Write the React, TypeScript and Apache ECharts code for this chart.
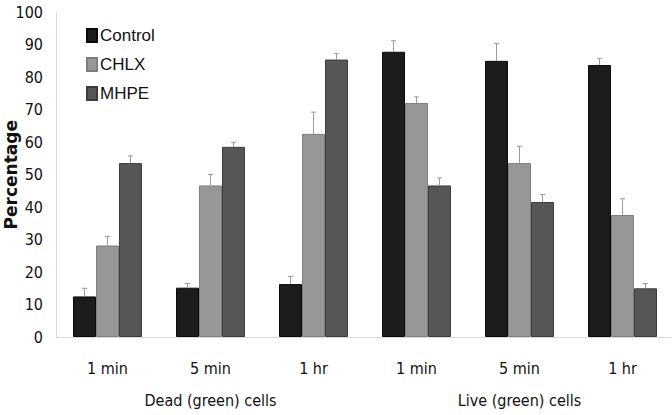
import React, { useEffect, useRef } from "react";
import * as echarts from "echarts";

const categories = ["1 min", "5 min", "1 hr", "1 min", "5 min", "1 hr"];
const groups = ["Dead (green) cells", "Live (green) cells"];
const seriesNames = ["Control", "CHLX", "MHPE"];
const controlValues = [12.5, 15.2, 16.3, 87.9, 85.1, 83.8];
const controlErrors = [2.5, 1.3, 2.4, 3.4, 5.3, 2.1];
const chlxValues = [28.2, 46.7, 62.6, 72.1, 53.6, 37.6];
const chlxErrors = [2.8, 3.4, 6.7, 1.9, 5.2, 5.0];
const mhpeValues = [53.6, 58.6, 85.5, 46.7, 41.6, 15.0];
const mhpeErrors = [2.2, 1.4, 1.9, 2.3, 2.3, 1.5];
const yTicks = [0, 10, 20, 30, 40, 50, 60, 70, 80, 90, 100];

const narrow = "'Liberation Sans Narrow', 'DejaVu Sans Condensed', Lato, sans-serif";

export default function App() {
  const ref = useRef<HTMLDivElement>(null);
  useEffect(() => {
    const chart = echarts.init(ref.current!, null, { renderer: "svg" });
    const values = [controlValues, chlxValues, mhpeValues];
    const errors = [controlErrors, chlxErrors, mhpeErrors];
    const colors = ["#1c1c1c", "#979797", "#565656"];
    const borders = ["#0a0a0a", "#7e7e7e", "#3c3c3c"];
    const barW = 23;
    const bars = seriesNames.map((name, s) => ({
      name,
      type: "bar",
      xAxisIndex: 0,
      data: values[s],
      barWidth: barW,
      barGap: "0%",
      itemStyle: { color: colors[s], borderColor: borders[s], borderWidth: 1 },
    }));
    const errs = seriesNames.map((name, s) => ({
      name: name + " error",
      type: "custom",
      xAxisIndex: 0,
      z: 5,
      data: values[s].map((v, i) => [i, v, errors[s][i]]),
      encode: { x: 0, y: 1 },
      renderItem: (params: any, api: any) => {
        const base = api.coord([api.value(0), api.value(1)]);
        const top = api.coord([api.value(0), api.value(1) + api.value(2)]);
        const x = base[0] + (s - 1) * barW;
        return {
          type: "group",
          children: [
            { type: "line", shape: { x1: x, y1: base[1], x2: x, y2: top[1] }, style: { stroke: "#9a9a9a", lineWidth: 1 } },
            { type: "line", shape: { x1: x - 2.5, y1: top[1], x2: x + 2.5, y2: top[1] }, style: { stroke: "#9a9a9a", lineWidth: 1 } },
          ],
        };
      },
    }));
    chart.setOption({
      animation: false,
      backgroundColor: "#ffffff",
      grid: { left: 56, top: 12.5, width: 618, bottom: 78, containLabel: false, outerBoundsMode: "none" },
      legend: {
        data: seriesNames,
        orient: "vertical",
        left: 81,
        top: 22,
        itemWidth: 10,
        itemHeight: 13,
        itemGap: 12,
        icon: "rect",
        textStyle: { fontFamily: "'Liberation Sans', Arial, sans-serif", fontSize: 17, lineHeight: 16, color: "#111", padding: [0, 0, 0, -2] },
      },
      xAxis: [
        {
          type: "category",
          data: categories,
          axisLine: { lineStyle: { color: "#d9d9d9" } },
          axisTick: { show: false },
          axisLabel: { color: "#111", fontFamily: narrow, fontSize: 16, margin: 23, interval: 0 },
          splitLine: { show: true, interval: (index: number) => index === 3, lineStyle: { color: "#e3e3e3" } },
        },
        {
          type: "category",
          data: groups,
          position: "bottom",
          axisLine: { show: false },
          axisTick: { show: false },
          axisLabel: { color: "#111", fontFamily: narrow, fontSize: 16, margin: 55 },
        },
      ],
      yAxis: {
        type: "value",
        min: yTicks[0],
        max: yTicks[yTicks.length - 1],
        interval: 10,
        name: "Percentage",
        nameLocation: "middle",
        nameRotate: 90,
        nameGap: 37,
        nameMoveOverlap: false,
        nameTextStyle: { fontFamily: "'DejaVu Sans', sans-serif", fontWeight: "bold", fontSize: 17, color: "#111" },
        axisLine: { show: true, lineStyle: { color: "#d9d9d9" } },
        axisTick: { show: false },
        splitLine: { show: false },
        axisLabel: { color: "#111", fontFamily: narrow, fontSize: 16, margin: 13 },
      },
      series: [...bars, ...errs],
    });
    return () => chart.dispose();
  }, []);
  return <div ref={ref} style={{ position: "fixed", left: 0, top: 0, width: 672, height: 415 }} />;
}
